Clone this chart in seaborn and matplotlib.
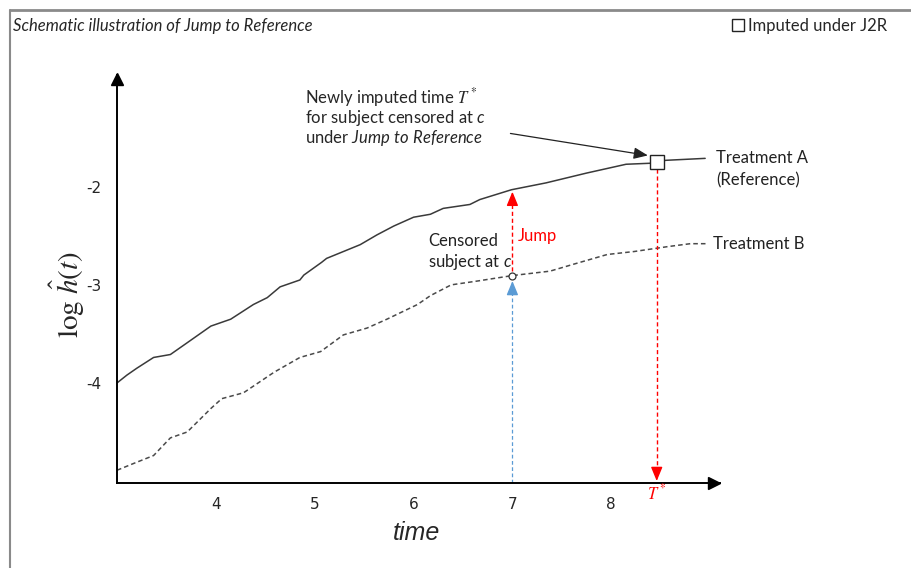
import pandas as pd
import matplotlib.pyplot as plt
import seaborn as sns
from matplotlib.lines import Line2D

# log hazard curves
time_a = [3.00, 3.10, 3.20, 3.37, 3.54, 3.71, 3.95, 4.15, 4.38, 4.52, 4.65, 4.85, 4.89,
          5.07, 5.12, 5.46, 5.63, 5.80, 6.00, 6.17, 6.30, 6.57, 6.67, 6.99, 7.34, 7.75,
          8.15, 8.39, 8.46, 8.55, 8.95]
logh_a = [-4.00, -3.92, -3.85, -3.74, -3.71, -3.59, -3.42, -3.35, -3.20, -3.13, -3.02, -2.95, -2.90,
          -2.77, -2.73, -2.59, -2.49, -2.40, -2.31, -2.28, -2.22, -2.18, -2.13, -2.03, -1.96, -1.86,
          -1.77, -1.76, -1.75, -1.73, -1.71]
time_b = [3.00, 3.17, 3.37, 3.54, 3.71, 3.95, 4.06, 4.28, 4.59, 4.85, 5.06, 5.29, 5.53,
          5.73, 6.04, 6.17, 6.38, 6.65, 7.00, 7.38, 7.65, 7.96, 8.23, 8.57, 8.80, 8.96]
logh_b = [-4.89, -4.82, -4.74, -4.56, -4.50, -4.26, -4.16, -4.10, -3.89, -3.74, -3.68, -3.51, -3.44,
          -3.35, -3.20, -3.11, -3.00, -2.96, -2.905, -2.86, -2.78, -2.69, -2.66, -2.61, -2.58, -2.58]

censor_t, censor_logh = 7.0, -2.905
imputed_t, imputed_logh = 8.46, -1.75
xticks = [4, 5, 6, 7, 8]
yticks = [-2, -3, -4]

sns.set_style('white')
plt.rcParams['font.family'] = ['Lato', 'DejaVu Sans']
plt.rcParams['mathtext.fontset'] = 'custom'
plt.rcParams['mathtext.rm'] = 'Lato'
plt.rcParams['mathtext.it'] = 'Lato:italic'
plt.rcParams['axes.unicode_minus'] = False

df_a = pd.DataFrame({'time': time_a, 'logh': logh_a})
df_b = pd.DataFrame({'time': time_b, 'logh': logh_b})

fig = plt.figure(figsize=(9.12, 5.68), dpi=100)
ax = fig.add_axes([117/912, 85/568, 603/912, 408/568])

sns.lineplot(data=df_a, x='time', y='logh', ax=ax, color='#3a3a3a', lw=1.1)
sns.lineplot(data=df_b, x='time', y='logh', ax=ax, color='#4a4a4a', lw=1.1,
             linestyle=(0, (3, 2)))

ax.set_xlim(3.0, 9.1)
ax.set_ylim(-5.02, -0.86)
ax.set_xticks(xticks)
ax.set_yticks(yticks)
ax.tick_params(direction='out', length=7, width=1.3, labelsize=11, color='black',
               labelfontfamily='Liberation Sans Narrow')
ax.tick_params(axis='x', pad=3)
ax.tick_params(axis='y', pad=4)

ax.spines[['top', 'right']].set_visible(False)
for s in ['left', 'bottom']:
    ax.spines[s].set_linewidth(1.4)
    ax.spines[s].set_color('black')

# arrow heads on the axes
ax.plot(0.99, 0, marker='>', ms=8, color='black', transform=ax.transAxes, clip_on=False)
ax.plot(0, 0.99, marker='^', ms=8, color='black', transform=ax.transAxes, clip_on=False)


def arrow_head(x, y_tip, y_from, color):
    ax.annotate('', xy=(x, y_tip), xytext=(x, y_from),
                arrowprops=dict(arrowstyle='-|>,head_length=0.85,head_width=0.35',
                                color=color, lw=1, shrinkA=0, shrinkB=0))


# jump from B to A at censoring time
ax.plot([censor_t, censor_t], [censor_logh + 0.05, -2.15], color='red', ls=(0, (3, 2)), lw=1)
arrow_head(censor_t, -2.05, -2.16, 'red')

# censoring time from the axis
ax.plot([censor_t, censor_t], [-5.02, -3.05], color='#5b9bd5', ls=(0, (3, 2)), lw=0.9)
arrow_head(censor_t, -2.96, -3.07, '#5b9bd5')

# imputed time down to the axis
ax.plot([imputed_t, imputed_t], [imputed_logh - 0.07, -4.9], color='red', ls=(0, (3, 2)), lw=1)
arrow_head(imputed_t, -5.0, -4.89, 'red')

ax.plot(censor_t, censor_logh, marker='o', ms=5, mfc='white', mec='#333333', mew=0.9, ls='none', zorder=5)
ax.plot(imputed_t, imputed_logh, marker='s', ms=10, mfc='white', mec='#222222', mew=1,
        ls='none', zorder=5, label='Imputed under J2R')

ax.annotate('', xy=(8.37, -1.68), xytext=(6.98, -1.456),
            arrowprops=dict(arrowstyle='-|>,head_length=0.85,head_width=0.35',
                            color='#222222', lw=0.9, shrinkA=0, shrinkB=0))

ax.text(4.90, -1.09, r'Newly imputed time $T^*$', fontsize=12, va='center', math_fontfamily='stix')
ax.text(4.90, -1.30, r'for subject censored at $c$', fontsize=12, va='center', math_fontfamily='custom')
ax.text(4.90, -1.50, r'under $Jump\ to\ Reference$', fontsize=12, va='center', math_fontfamily='custom')

ax.text(9.06, -1.71, 'Treatment A', fontsize=12, va='center', color='#222222')
ax.text(9.06, -1.93, '(Reference)', fontsize=12, va='center', color='#222222')
ax.text(9.03, -2.58, 'Treatment B', fontsize=12, va='center', color='#222222')
ax.text(6.15, -2.55, 'Censored', fontsize=12, va='center', color='#222222')
ax.text(6.15, -2.77, r'subject at $c$', fontsize=12, va='center', color='#222222', math_fontfamily='custom')
ax.text(7.05, -2.50, 'Jump', fontsize=12, va='center', color='red')
ax.text(imputed_t, -5.12, r'$T^*$', fontsize=12, color='red', ha='center', va='center',
        math_fontfamily='stix')

ax.set_xlabel('time', fontsize=18, style='italic', family=['Liberation Sans', 'DejaVu Sans'], va='center')
ax.xaxis.set_label_coords((416 - 117) / 603, (483 - 533) / 408)
ax.set_ylabel(r'$\log\,\hat{h}(t)$', fontsize=21, math_fontfamily='stix', va='center')
ax.yaxis.set_label_coords((67 - 117) / 603, (483 - 295) / 408)

fig.text(13/912, 1 - 26/568, 'Schematic illustration of Jump to Reference', style='italic',
         fontsize=12, va='center')
fig.legend(loc='center right', bbox_to_anchor=(895/912, 1 - 26/568), frameon=False, fontsize=12,
           handletextpad=0.05, markerscale=0.85, handlelength=1, borderpad=0)

# panel frame on the top and left
fig.add_artist(Line2D([10/912, 10/912], [0, 1 - 10/568], transform=fig.transFigure,
                      color='#8a8a8a', lw=1.5))
fig.add_artist(Line2D([10/912, 1], [1 - 10/568, 1 - 10/568], transform=fig.transFigure,
                      color='#8a8a8a', lw=2))

fig.savefig('out.png', dpi=100)
